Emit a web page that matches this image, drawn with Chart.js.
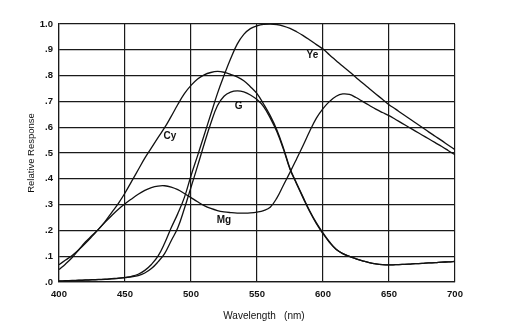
<!DOCTYPE html>
<html><head><meta charset="utf-8">
<script src="https://cdn.jsdelivr.net/npm/chart.js@4/dist/chart.umd.min.js"></script>
<style>html,body{margin:0;padding:0;background:#fff}#wrap{width:510px;height:328px}</style>
</head><body><div id="wrap"><canvas id="c" width="510" height="328"></canvas></div>
<script>
const wavelengths = [400,405,410,415,420,425,430,435,440,445,450,455,460,465,470,475,480,485,490,495,500,505,510,515,520,525,530,535,540,545,550,555,560,565,570,575,580,585,590,595,600,605,610,615,620,625,630,635,640,645,650,655,660,665,670,675,680,685,690,695,700];
const ye = [.004,.005,.006,.007,.008,.009,.010,.011,.013,.015,.018,.022,.030,.045,.068,.100,.150,.210,.265,.328,.412,.490,.570,.650,.730,.800,.865,.922,.960,.982,.993,.999,1.0,.998,.992,.983,.970,.955,.938,.920,.903,.880,.858,.836,.815,.793,.771,.750,.729,.708,.687,.670,.652,.635,.617,.600,.582,.565,.548,.530,.513];
const g = [.003,.004,.005,.006,.007,.008,.009,.010,.012,.014,.017,.020,.025,.035,.052,.078,.110,.160,.210,.285,.367,.450,.535,.615,.683,.720,.736,.741,.737,.725,.707,.680,.636,.583,.515,.437,.380,.325,.272,.226,.187,.153,.126,.110,.099,.090,.082,.075,.070,.067,.066,.067,.068,.069,.071,.072,.074,.075,.077,.078,.080];
const cy = [.048,.070,.095,.125,.155,.180,.205,.235,.270,.305,.345,.390,.435,.480,.520,.560,.598,.642,.688,.730,.762,.787,.803,.812,.816,.813,.805,.795,.780,.757,.730,.690,.645,.590,.520,.440,.383,.328,.275,.229,.190,.155,.127,.110,.099,.090,.082,.075,.070,.067,.066,.067,.068,.069,.071,.072,.074,.075,.077,.078,.080];
const mg = [.067,.085,.103,.125,.150,.177,.205,.232,.258,.282,.303,.322,.340,.355,.366,.372,.373,.368,.358,.343,.327,.311,.296,.285,.277,.272,.269,.267,.267,.268,.271,.277,.290,.325,.375,.425,.477,.530,.585,.635,.672,.700,.720,.729,.727,.715,.700,.685,.670,.657,.645,.630,.615,.600,.585,.570,.555,.540,.525,.509,.493];
const xTicks = [400,450,500,550,600,650,700];
const yTicks = [0,0.1,0.2,0.3,0.4,0.5,0.6,0.7,0.8,0.9,1.0];
const curveNames = ['Ye','G','Cy','Mg'];
const curveLabelWl = [592,536,484,525];
const curveLabelVal = [0.877,0.68,0.566,0.24];

const FONT = '"Liberation Sans", Arial, Helvetica, sans-serif';
const INK = '#111';
const series = [ye, g, cy, mg];
const toPoints = arr => arr.map((v, i) => ({x: wavelengths[i], y: v}));

const curveLabels = {
  id: 'curveLabels',
  afterDatasetsDraw(chart) {
    const {ctx, scales: {x, y}} = chart;
    ctx.save();
    ctx.font = 'bold 10px ' + FONT;
    ctx.fillStyle = INK;
    ctx.textAlign = 'center';
    ctx.textBaseline = 'middle';
    curveNames.forEach((n, i) => {
      ctx.fillText(n, x.getPixelForValue(curveLabelWl[i]), y.getPixelForValue(curveLabelVal[i]));
    });
    ctx.restore();
  }
};

new Chart(document.getElementById('c'), {
  type: 'line',
  data: {
    datasets: series.map((s, i) => ({
      label: curveNames[i],
      data: toPoints(s),
      borderColor: INK,
      borderWidth: 1.3,
      pointRadius: 0,
      fill: false,
      tension: 0.4
    }))
  },
  options: {
    responsive: false,
    devicePixelRatio: 1,
    animation: false,
    layout: {padding: {left: 0, right: 55, top: 24, bottom: 0}},
    plugins: {legend: {display: false}, tooltip: {enabled: false}},
    scales: {
      x: {
        type: 'linear', min: 400, max: 700,
        afterBuildTicks: s => { s.ticks = xTicks.map(v => ({value: v})); },
        afterFit: s => { s.height = 46; },
        grid: {color: '#1a1a1a', lineWidth: 1.2, drawTicks: false},
        border: {display: true, color: '#1a1a1a', width: 1.2},
        ticks: {color: INK, padding: 7, font: {family: FONT, size: 9.5, weight: 'bold'}, maxRotation: 0},
        title: {display: true, text: '     Wavelength   (nm)', color: INK, font: {family: FONT, size: 10}, padding: {top: 0, bottom: 6}}
      },
      y: {
        type: 'linear', min: 0, max: 1,
        afterBuildTicks: s => { s.ticks = yTicks.map(v => ({value: v})); },
        afterFit: s => { s.width = 59; },
        grid: {color: '#1a1a1a', lineWidth: 1.2, drawTicks: false},
        border: {display: true, color: '#1a1a1a', width: 1.2},
        ticks: {
          color: INK, padding: 6, font: {family: FONT, size: 9.5, weight: 'bold'},
          callback: v => v >= 0.999 ? '1.0' : '.' + Math.round(v * 10)
        },
        title: {display: true, text: 'Relative Response', color: INK, font: {family: FONT, size: 9.5}, padding: {top: 26, bottom: 0}}
      }
    }
  },
  plugins: [curveLabels]
});
</script>
</body></html>
